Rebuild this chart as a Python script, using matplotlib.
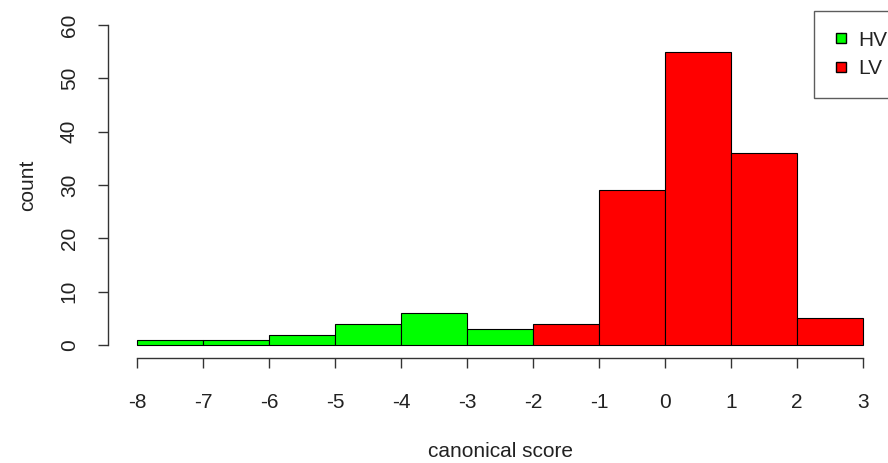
import matplotlib
matplotlib.use('Agg')
import matplotlib.pyplot as plt
from matplotlib.lines import Line2D

plt.rcParams['font.family'] = ['Liberation Sans', 'DejaVu Sans']
plt.rcParams['axes.unicode_minus'] = False

# histogram bins (left edges, width 1) and counts
hv_edges = [-8, -7, -6, -5, -4, -3]
hv_counts = [1, 1, 2, 4, 6, 3]
lv_edges = [-2, -1, 0, 1, 2]
lv_counts = [4, 29, 55, 36, 5]

x_ticks = [-8, -7, -6, -5, -4, -3, -2, -1, 0, 1, 2, 3]
y_ticks = [0, 10, 20, 30, 40, 50, 60]

fig = plt.figure(figsize=(8.88, 4.63), dpi=100)
ax = fig.add_axes([108 / 888, 1 - 358 / 463, 784 / 888, 346 / 463])

ax.bar(hv_edges, hv_counts, width=1, align='edge', color='#00ff00',
       edgecolor='black', linewidth=0.8)
ax.bar(lv_edges, lv_counts, width=1, align='edge', color='#ff0000',
       edgecolor='black', linewidth=0.8)

ax.set_xlim(-8.44, 3.44)
ax.set_ylim(-2.4, 62.4)

for s in ['top', 'right']:
    ax.spines[s].set_visible(False)
ax.spines['left'].set_bounds(0, 60)
ax.spines['bottom'].set_bounds(-8, 3)
for s in ['left', 'bottom']:
    ax.spines[s].set_color('#333333')
    ax.spines[s].set_linewidth(1)

ax.set_xticks(x_ticks)
ax.set_yticks(y_ticks)
ax.tick_params(axis='both', length=7, width=1, color='#333333',
               labelsize=15, labelcolor='#222222')
ax.tick_params(axis='x', pad=18)
ax.tick_params(axis='y', pad=14)
for lab in ax.get_yticklabels():
    lab.set_rotation(90)
    lab.set_va('center')

ax.set_xlabel('canonical score', fontsize=15, color='#222222', labelpad=22)
ax.set_ylabel('count', fontsize=15, color='#222222', labelpad=16)

handles = [
    Line2D([], [], linestyle='none', marker='s', markersize=7,
           markerfacecolor='#00ff00', markeredgecolor='black'),
    Line2D([], [], linestyle='none', marker='s', markersize=7,
           markerfacecolor='#ff0000', markeredgecolor='black'),
]
leg = fig.legend(handles, ['HV', 'LV'], loc='upper left',
                 bbox_to_anchor=(814 / 888, 1 - 11 / 463),
                 fontsize=15, frameon=True, fancybox=False,
                 handlelength=0.7, handletextpad=0.45, borderpad=0.95,
                 labelspacing=0.45, borderaxespad=0)
leg.get_frame().set_edgecolor('#333333')
leg.get_frame().set_linewidth(1)
for t in leg.get_texts():
    t.set_color('#222222')

fig.savefig('out.png', dpi=100)
